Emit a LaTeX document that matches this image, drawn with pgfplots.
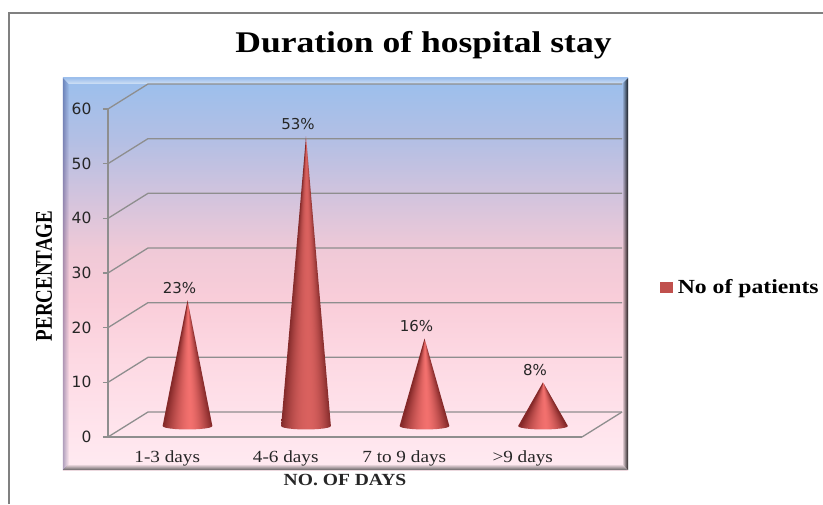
\documentclass[border=0pt]{standalone}
\usepackage{fontspec}
\setmainfont{Liberation Serif}
\newfontfamily\titlefont[FakeStretch=1.185]{Liberation Serif}
\newfontfamily\catfont[FakeStretch=1.13]{Liberation Serif}
\newfontfamily\ylabfont[FakeStretch=0.79]{Liberation Serif}
\newfontfamily\xlabfont[FakeStretch=1.15]{Liberation Serif}
\newfontfamily\legfont[FakeStretch=1.185]{Liberation Serif}
\newfontfamily\numfont{DejaVu Sans}
\usepackage{pgfplots}
\pgfplotsset{compat=1.18}
\usetikzlibrary{fadings}

\definecolor{conered}{HTML}{C0504D}
\definecolor{gridgray}{HTML}{8E8E8E}
\definecolor{pa}{HTML}{FFEAF1}
\definecolor{pb}{HTML}{FFE6EE}
\definecolor{pc}{HTML}{FDD9E3}
\definecolor{pd}{HTML}{F9CDD9}
\definecolor{pe}{HTML}{EFC9D7}
\definecolor{pf}{HTML}{CFC3DE}
\definecolor{pg}{HTML}{B3BFE4}
\definecolor{ph}{HTML}{9DBFEC}

% Backdrop of the plot panel, blue at the top running down to pale pink
\pgfdeclareverticalshading{panelback}{100bp}{
  color(0bp)=(pa);
  color(25bp)=(pa);
  color(28.8bp)=(pb);
  color(39bp)=(pc);
  color(46.7bp)=(pd);
  color(53.1bp)=(pe);
  color(60.7bp)=(pf);
  color(67.1bp)=(pg);
  color(74.2bp)=(ph);
  color(75bp)=(ph);
  color(100bp)=(ph)}

% Fans of shades converging at the tip, which give the cones their roundness.
% Short cones carry a brighter highlight than the tall one.
\pgfdeclarefunctionalshading{conefan}{\pgfpoint{-50bp}{-50bp}}{\pgfpoint{50bp}{50bp}}{}{
  25 exch sub 0.5 mul 0.001 add div
  dup 0.1 lt {0.1 exch sub 1.1 div}{0.1 sub 0.9 div} ifelse
  dup 1 gt {pop 1} if
  dup sqrt mul
  1 exch sub
  dup 0 lt {pop 0} if
  dup 0.43 mul 0.52 add exch
  dup 0.28 mul 0.16 add exch
  0.27 mul 0.16 add
}
\pgfdeclarefunctionalshading{conefantall}{\pgfpoint{-50bp}{-50bp}}{\pgfpoint{50bp}{50bp}}{}{
  25 exch sub 0.5 mul 0.001 add div
  dup 0.1 lt {0.1 exch sub 1.1 div}{0.1 sub 0.9 div} ifelse
  dup 1 gt {pop 1} if
  dup dup mul
  1 exch sub
  dup 0 lt {pop 0} if
  exch pop
  dup 0.33 mul 0.52 add exch
  dup 0.21 mul 0.17 add exch
  0.20 mul 0.17 add
}

\pgfplotsset{
  cone/.style={forget plot, draw=none, shading=conefan, xshift=20.25pt, yshift=11pt},
}

\begin{document}
\begin{tikzpicture}[x=1pt,y=1pt]
  \path[use as bounding box] (-108,-67) rectangle (715,437);
  % Outer chart frame
  \draw[gridgray!90!black, line width=1.4pt] (-99,-67) -- (-99,424) -- (715,424);
  % Panel and its bevelled rim
  \path[shading=panelback] (-45,-33) rectangle (520,359);
  \fill[black, opacity=.85, path fading=west] (514,-27) -- (520,-33) -- (520,359) -- (514,353) -- cycle;
  \fill[black!75, opacity=.8, path fading=north] (-45,-33) -- (520,-33) -- (514,-27) -- (-39,-27) -- cycle;
  \fill[black!70!blue, opacity=.3, path fading=east] (-45,-33) -- (-39,-27) -- (-39,353) -- (-45,359) -- cycle;
  \fill[white, opacity=.55, path fading=north] (-45,359) -- (520,359) -- (514,353) -- (-39,353) -- cycle;

  \begin{axis}[
    at={(0,0)}, anchor=south west,
    scale only axis, width=474pt, height=328pt,
    xmin=-0.5, xmax=3.5, ymin=0, ymax=60,
    clip=false,
    axis x line=bottom, axis y line=left,
    axis line style={gridgray, line width=1.3pt, -},
    tick style={gridgray, line width=1.2pt},
    xtick={0,1,2,3},
    xticklabels={1-3 days,4-6 days,7 to 9 days,>9 days},
    x tick label style={font=\catfont\fontsize{17}{17}\selectfont, text=black!85, yshift=-8pt},
    xtick style={draw=none},
    ytick={0,10,...,60},
    ytick align=outside, tickwidth=5pt,
    y tick label style={font=\numfont\fontsize{15.5}{16}\selectfont, text=black!85, xshift=-8pt},
    /pgf/number format/assume math mode=true,
    legend style={at={(1.165,0.457)}, anchor=west, draw=none, fill=none,
      font=\legfont\bfseries\fontsize{20}{20}\selectfont, inner sep=0pt,
      legend cell align=left},
    legend image code/.code={\fill[conered] (0pt,-5pt) rectangle (12pt,5pt); \path (15pt,0pt);},
  ]
    % Depth gridlines: side wall and back wall at every major value
    \pgfplotsinvokeforeach{0,10,...,60}{
      \draw[gridgray, line width=1.3pt] (axis cs:-0.5,#1)
        -- ([shift={(40pt,25pt)}]axis cs:-0.5,#1)
        -- ([shift={(40pt,25pt)}]axis cs:3.5,#1);
    }
    \draw[gridgray, line width=1.3pt] (axis cs:3.5,0) -- ([shift={(40pt,25pt)}]axis cs:3.5,0);

    % Cones: base rim, tip at the value
    \addplot[cone] coordinates {(-0.21,0) (0,23) (0.21,0) (0.203,-0.166) (0.182,-0.32) (0.148,-0.452) (0.105,-0.554) (0.054,-0.618) (0,-0.64) (-0.054,-0.618) (-0.105,-0.554) (-0.148,-0.452) (-0.182,-0.32) (-0.203,-0.166)} -- cycle;
    \addplot[cone, shading=conefantall] coordinates {(0.79,0) (1,53) (1.21,0) (1.203,-0.166) (1.182,-0.32) (1.148,-0.452) (1.105,-0.554) (1.054,-0.618) (1,-0.64) (0.946,-0.618) (0.895,-0.554) (0.852,-0.452) (0.818,-0.32) (0.797,-0.166)} -- cycle;
    \addplot[cone] coordinates {(1.79,0) (2,16) (2.21,0) (2.203,-0.166) (2.182,-0.32) (2.148,-0.452) (2.105,-0.554) (2.054,-0.618) (2,-0.64) (1.946,-0.618) (1.895,-0.554) (1.852,-0.452) (1.818,-0.32) (1.797,-0.166)} -- cycle;
    \addplot[cone] coordinates {(2.79,0) (3,8) (3.21,0) (3.203,-0.166) (3.182,-0.32) (3.148,-0.452) (3.105,-0.554) (3.054,-0.618) (3,-0.64) (2.946,-0.618) (2.895,-0.554) (2.852,-0.452) (2.818,-0.32) (2.797,-0.166)} -- cycle;

    % Value labels above the tips
    \addplot[forget plot, draw=none, mark=none,
      point meta=explicit symbolic,
      nodes near coords,
      every node near coord/.append style={anchor=center, xshift=12.25pt, yshift=23.5pt,
        font=\numfont\fontsize{15}{16}\selectfont, text=black!85}]
      coordinates {(0,23)[23\%] (1,53)[53\%] (2,16)[16\%] (3,8)[8\%]};

    \addlegendimage{conered}
    \addlegendentry{No of patients}
  \end{axis}

  % Titles
  \node[anchor=base, font=\titlefont\bfseries\fontsize{30}{30}\selectfont] at (315.5,384) {Duration of hospital stay};
  \node[anchor=base, font=\xlabfont\bfseries\fontsize{17}{17}\selectfont, text=black!85] at (237,-48) {NO.\ OF DAYS};
  \node[anchor=base, rotate=90, font=\ylabfont\bfseries\fontsize{24}{24}\selectfont] at (-56,161) {PERCENTAGE};
\end{tikzpicture}
\end{document}
